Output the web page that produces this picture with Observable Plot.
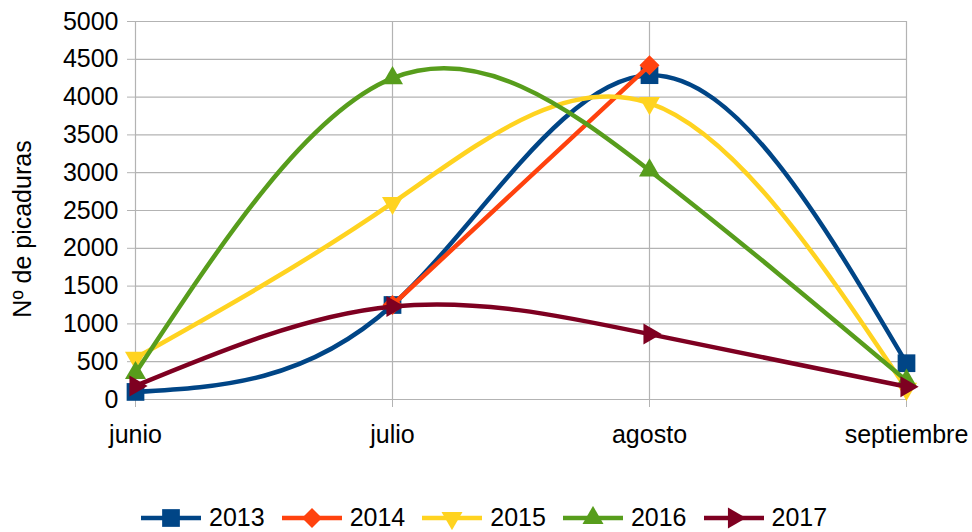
<!DOCTYPE html>
<html>
<head>
<meta charset="utf-8">
<script src="https://cdn.jsdelivr.net/npm/d3@7"></script>
<script src="https://cdn.jsdelivr.net/npm/@observablehq/plot@0.6"></script>
<style>
  html, body { margin: 0; padding: 0; background: #fff; }
  body { width: 972px; height: 532px; overflow: hidden; font-family: "Liberation Sans", Arial, sans-serif; }
  #legend { height: 35px; display: flex; align-items: center; padding-left: 141px; padding-top: 6px; box-sizing: border-box; font-size: 25px; color: #000; }
  .item { display: flex; align-items: center; margin-right: 17px; }
  .item svg { display: block; margin-right: 8px; }
</style>
</head>
<body>
<div id="chart"></div>
<div id="legend"></div>
<script>
const months = ["junio", "julio", "agosto", "septiembre"];
const years = ["2013", "2014", "2015", "2016", "2017"];
const v2013 = [100, 1250, 4290, 480];
const v2014 = [null, 1250, 4420, null];
const v2015 = [550, 2600, 3920, 140];
const v2016 = [350, 4250, 3030, 250];
const v2017 = [180, 1230, 865, 170];
const yTicks = [0, 500, 1000, 1500, 2000, 2500, 3000, 3500, 4000, 4500, 5000];
const colors = ["#004586", "#ff420e", "#ffd320", "#579d1c", "#7e0021"];
const symbols = ["square", "square", "triangle", "triangle", "triangle"];
const rotations = [0, 45, 180, 0, 90];
const radii = [10, 8, 7.8, 7.8, 7.8];
const yLabel = "Nº de picaduras";

const seriesValues = [v2013, v2014, v2015, v2016, v2017];
const series = years.map((yr, i) => ({
  year: yr,
  rows: months.map((m, j) => ({month: m, value: seriesValues[i][j]})).filter(d => d.value != null)
}));

const seriesMarks = series.flatMap((s, i) => [
  Plot.line(s.rows, {x: "month", y: "value", stroke: colors[i], strokeWidth: 4.5, curve: "natural", strokeLinejoin: "round"}),
  Plot.dot(s.rows, {x: "month", y: "value", fill: colors[i], symbol: symbols[i], r: radii[i], rotate: rotations[i], stroke: "none"})
]);

const chart = Plot.plot({
  width: 972,
  height: 497,
  marginLeft: 135,
  marginRight: 66,
  marginTop: 21,
  marginBottom: 98,
  style: {fontFamily: "'Liberation Sans', Arial, sans-serif", fontSize: "25px", color: "#000", background: "#fff", overflow: "visible"},
  x: {type: "point", domain: months, padding: 0, label: null},
  y: {domain: [0, 5000], label: null},
  marks: [
    Plot.gridY(yTicks, {stroke: "#b3b3b3", strokeOpacity: 1, strokeWidth: 1.2}),
    Plot.gridX(months, {stroke: "#b3b3b3", strokeOpacity: 1, strokeWidth: 1.2}),
    Plot.axisY(yTicks, {tickSize: 8, tickPadding: 9, stroke: "#b3b3b3", fill: "#000", label: null, tickFormat: d => String(d)}),
    Plot.axisX(months, {tickSize: 8, tickPadding: 18, stroke: "#b3b3b3", fill: "#000", label: null}),
    ...seriesMarks
  ]
});
document.getElementById("chart").appendChild(chart);

// Y axis title
d3.select(chart).append("text")
  .attr("transform", "translate(22,229) rotate(-90)")
  .attr("text-anchor", "middle")
  .attr("dominant-baseline", "central")
  .attr("font-family", "'Liberation Sans', Arial, sans-serif")
  .attr("font-size", 25)
  .attr("fill", "#000")
  .text(yLabel);

// Legend
const legend = d3.select("#legend");
const symMap = {square: d3.symbolSquare, triangle: d3.symbolTriangle};
years.forEach((yr, i) => {
  const item = legend.append("div").attr("class", "item");
  const svg = item.append("svg").attr("width", 60).attr("height", 24);
  svg.append("line").attr("x1", 0).attr("x2", 60).attr("y1", 12).attr("y2", 12)
    .attr("stroke", colors[i]).attr("stroke-width", 4.5);
  const size = Math.PI * radii[i] * radii[i];
  svg.append("path").attr("d", d3.symbol(symMap[symbols[i]], size)())
    .attr("transform", `translate(30,12) rotate(${rotations[i]})`).attr("fill", colors[i]);
  item.append("span").text(yr);
});
</script>
</body>
</html>
